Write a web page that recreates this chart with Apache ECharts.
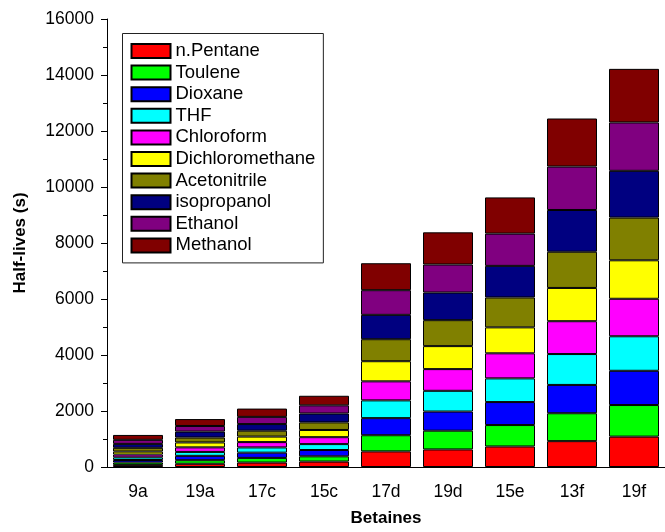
<!DOCTYPE html>
<html>
<head>
<meta charset="utf-8">
<script src="https://cdn.jsdelivr.net/npm/echarts@6/dist/echarts.min.js"></script>
<style>
  html, body { margin: 0; padding: 0; background: #fff; }
  #chart { width: 665px; height: 532px; }
</style>
</head>
<body>
<div id="chart"></div>
<script>
// Betaine half-lives (s) in each solvent, stacked per compound
var categories = ['9a', '19a', '17c', '15c', '17d', '19d', '15e', '13f', '19f'];

var nPentane        = [75, 116, 159, 194, 557, 627, 733, 923, 1085];
var toulene         = [85, 127, 166, 187, 578, 670, 765, 997, 1128];
var dioxane         = [90, 155, 187, 226, 610, 684, 821, 1011, 1223];
var thf             = [95, 141, 187, 211, 634, 740, 846, 1103, 1233];
var chloroform      = [100, 162, 190, 247, 680, 775, 895, 1173, 1339];
var dichloromethane = [105, 176, 197, 257, 719, 821, 927, 1188, 1374];
var acetonitrile    = [135, 176, 211, 271, 786, 927, 1068, 1293, 1526];
var isopropanol     = [140, 211, 236, 317, 870, 987, 1128, 1491, 1670];
var ethanol         = [145, 201, 257, 292, 881, 1001, 1152, 1551, 1727];
var methanol        = [175, 247, 296, 342, 962, 1149, 1293, 1716, 1914];

var yTicks = [0, 2000, 4000, 6000, 8000, 10000, 12000, 14000, 16000];

var solvents = [
  { name: 'n.Pentane',       data: nPentane,        color: '#FF0000' },
  { name: 'Toulene',         data: toulene,         color: '#00FF00' },
  { name: 'Dioxane',         data: dioxane,         color: '#0000FF' },
  { name: 'THF',             data: thf,             color: '#00FFFF' },
  { name: 'Chloroform',      data: chloroform,      color: '#FF00FF' },
  { name: 'Dichloromethane', data: dichloromethane, color: '#FFFF00' },
  { name: 'Acetonitrile',    data: acetonitrile,    color: '#808000' },
  { name: 'isopropanol',     data: isopropanol,     color: '#000080' },
  { name: 'Ethanol',         data: ethanol,         color: '#800080' },
  { name: 'Methanol',        data: methanol,        color: '#800000' }
];

var FONT = 'Liberation Sans, Arial, sans-serif';

var chart = echarts.init(document.getElementById('chart'), null, { renderer: 'canvas' });

chart.setOption({
  animation: false,
  backgroundColor: '#ffffff',
  textStyle: { fontFamily: FONT, color: '#000' },
  grid: { left: 107, top: 19, right: -2, bottom: 59.5, containLabel: false },
  legend: {
    orient: 'vertical',
    left: 122.5,
    top: 33.5,
    padding: [8, 8, 8, 8],
    itemWidth: 39,
    itemHeight: 14,
    itemGap: 2.6,
    icon: 'rect',
    borderColor: '#222',
    borderWidth: 1,
    backgroundColor: '#fff',
    textStyle: { fontFamily: FONT, fontSize: 18.5, color: '#000', lineHeight: 18 },
    data: solvents.map(function (s) { return s.name; })
  },
  xAxis: [
    {
      type: 'category',
      data: categories,
      name: 'Betaines',
      nameLocation: 'middle',
      nameGap: 43,
      nameTextStyle: { fontFamily: FONT, fontSize: 17, fontWeight: 'bold', color: '#000' },
      axisLine: { lineStyle: { color: '#000', width: 1 } },
      axisTick: { alignWithLabel: true, length: 6, lineStyle: { color: '#000' } },
      axisLabel: { fontFamily: FONT, fontSize: 17.5, color: '#000', margin: 16 },
      splitLine: { show: false }
    },
    {
      // boundary ticks between categories
      type: 'category',
      data: categories,
      position: 'bottom',
      axisLine: { show: false },
      axisTick: { alignWithLabel: false, length: 4, lineStyle: { color: '#000' } },
      axisLabel: { show: false },
      splitLine: { show: false }
    }
  ],
  yAxis: {
    type: 'value',
    min: yTicks[0],
    max: yTicks[yTicks.length - 1],
    interval: yTicks[1] - yTicks[0],
    name: 'Half-lives (s)',
    nameLocation: 'middle',
    nameGap: 78,
    nameTextStyle: { fontFamily: FONT, fontSize: 17, fontWeight: 'bold', color: '#000' },
    axisLine: { show: true, lineStyle: { color: '#000', width: 1 } },
    axisTick: { show: true, length: 6, lineStyle: { color: '#000' } },
    minorTick: { show: true, splitNumber: 2, length: 4, lineStyle: { color: '#000' } },
    axisLabel: {
      fontFamily: FONT, fontSize: 17.5, color: '#000', margin: 13,
      formatter: function (v) { return String(v); }
    },
    splitLine: { show: false }
  },
  series: solvents.map(function (s) {
    return {
      name: s.name,
      type: 'bar',
      stack: 'total',
      barWidth: 50,
      data: s.data,
      itemStyle: { color: s.color, borderColor: '#000', borderWidth: 1 }
    };
  })
});
</script>
</body>
</html>
